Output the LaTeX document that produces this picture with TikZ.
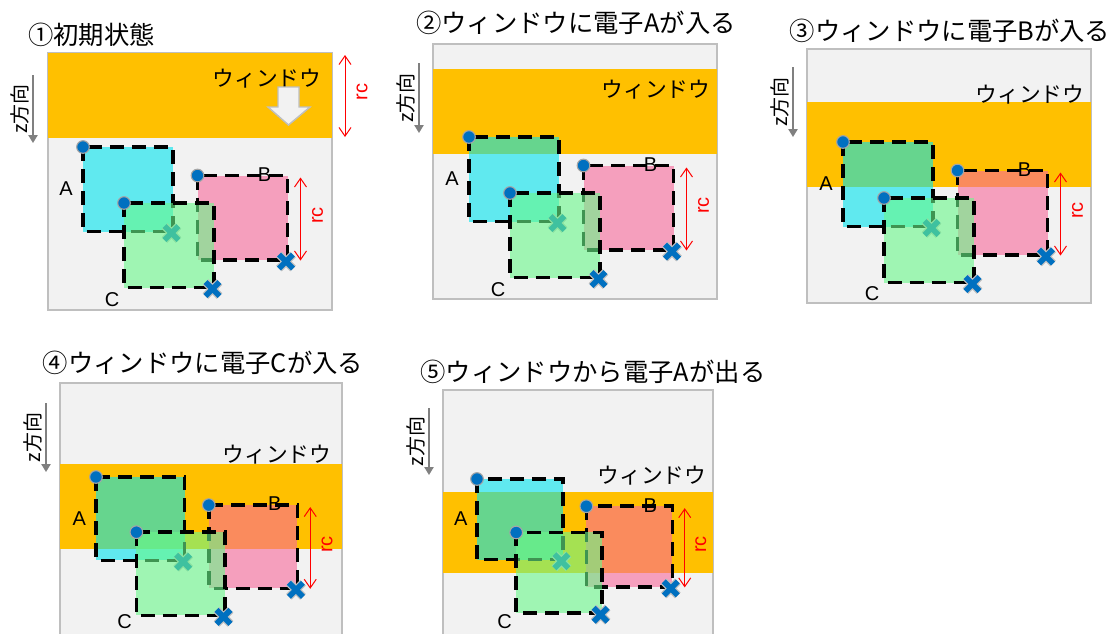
\documentclass[tikz,border=0pt]{standalone}
\usepackage{fontspec}
\setmainfont{Noto Sans CJK JP}
\newfontfamily\lat{Liberation Sans}
\usetikzlibrary{arrows.meta,calc}
\definecolor{bgray}{HTML}{F2F2F2}
\definecolor{fgray}{HTML}{BFBFBF}
\definecolor{winor}{HTML}{FFC000}
\definecolor{cA}{RGB}{0,228,238}
\definecolor{cB}{RGB}{248,105,155}
\definecolor{cC}{RGB}{105,248,138}
\definecolor{eblue}{HTML}{0070C0}
\definecolor{dgray}{HTML}{A6A6A6}
\definecolor{zgray}{HTML}{808080}
\newcommand\onesq[6]{% #1 coord, #2 scale, #3 colour, #4 label, #5 lx, #6 ly
  \fill[#3, fill opacity=0.6] (#1) rectangle ++(90*#2,84.5*#2);
  \draw[dashb] (#1) rectangle ++(90*#2,84.5*#2);
  \coordinate (#1x) at ($(#1)+(90*#2-1.5,84.5*#2+1.5)$);
  \draw[xout, shift={(#1x)}] (-7,-7) -- (7,7) (-7,7) -- (7,-7);
  \draw[xin, shift={(#1x)}] (-7,-7) -- (7,7) (-7,7) -- (7,-7);
  \node[edot] (#1d) at (#1) {};
  \node[lbl] (#1l) at ($(#1)+(#5*#2,#6*#2)$) {#4};
}
\newcommand\elec[5]{% #1 prefix, #2 ax, #3 ay, #4 scale, #5 C label y offset
  \coordinate (#1A) at (#2,#3);
  \coordinate (#1B) at (#2+114.5*#4,#3+28.5*#4);
  \coordinate (#1C) at (#2+41*#4,#3+56*#4);
  \onesq{#1A}{#4}{cA}{A}{-17}{42}
  \onesq{#1B}{#4}{cB}{B}{67}{-1}
  \coordinate (#1r1) at ($(#1B)+(103*#4,2*#4)$);
  \coordinate (#1r2) at ($(#1B)+(103*#4,85*#4)$);
  \draw[rcarrow] (#1r1) -- (#1r2);
  \node[rclbl] (#1rl) at ($(#1B)+(120*#4,40*#4)$) {rc};
  \onesq{#1C}{#4}{cC}{C}{-12}{#5}
}
\newcommand\zdir[4]{% #1 prefix, #2 x, #3 y top, #4 y bottom
  \coordinate (#1z1) at (#2,#3);
  \coordinate (#1z2) at (#2,#4);
  \draw[zarrow] (#1z1) -- (#1z2);
  \node[ztext] (#1zt) at (#2-13,{(#3+#4)/2}) {z方向};
}
\begin{document}
\begin{tikzpicture}[x=0.75pt,y=-0.75pt,
  panel/.style={fill=bgray, draw=fgray, line width=1.1pt},
  win/.style={fill=winor},
  dashb/.style={draw=black, line width=2.6pt, dash pattern=on 10.5pt off 6pt},
  xout/.style={draw=fgray, line width=6pt},
  xin/.style={draw=eblue, line width=4.2pt},
  edot/.style={circle, fill=eblue, draw=dgray, line width=0.8pt, minimum size=9.5pt, inner sep=0pt},
  lbl/.style={font=\lat\fontsize{15}{18}\selectfont, inner sep=0pt},
  rcarrow/.style={draw=red, line width=0.75pt, {Straight Barb[length=6.5pt,width=9pt]}-{Straight Barb[length=6.5pt,width=9pt]}},
  rclbl/.style={font=\lat\fontsize{15}{18}\selectfont, text=red, rotate=90, inner sep=0pt},
  zarrow/.style={draw=zgray, line width=1.1pt, -{Triangle[length=6pt,width=7pt]}},
  ztext/.style={font=\fontsize{15}{17}\selectfont, rotate=90, inner sep=0pt},
  title/.style={font=\fontsize{19}{22}\selectfont, inner sep=0pt},
  wtext/.style={font=\fontsize{16.3}{19}\selectfont, inner sep=0pt},
  barrow/.style={fill=bgray, draw=fgray, line width=1.1pt}]
\clip (0,0) rectangle (1115,633);
\fill[white] (0,0) rectangle (1115,633);
% ---- panel 1
\node[title, anchor=west] (t1) at (28,35) {①初期状態};
\fill[panel] (48,53) rectangle (332,310);
\fill[win] (48,53) rectangle (332,138);
\node[wtext] (w1) at (267,79) {ウィンドウ};
\draw[barrow] (278,87) -- (299,87) -- (299,107) -- (310,107) -- (288.5,125) -- (268,107) -- (278,107) -- cycle;
\coordinate (p1r1) at (345,55);
\coordinate (p1r2) at (345,137);
\draw[rcarrow] (p1r1) -- (p1r2);
\node[rclbl] (p1rl) at (362,92) {rc};
\zdir{p1}{33}{75}{143}
\elec{a}{83}{147}{1}{97}
% ---- panel 2
\node[title] (t2) at (576,23) {②ウィンドウに電子Aが入る};
\fill[panel] (433,44) rectangle (717,299);
\fill[win] (433,69) rectangle (717,154);
\node[wtext] (w2) at (656,90) {ウィンドウ};
\zdir{p2}{419}{63}{133}
\elec{b}{469}{137}{1}{97}
% ---- panel 3
\node[title] (t3) at (950,31) {③ウィンドウに電子Bが入る};
\fill[panel] (807,49) rectangle (1091,303);
\fill[win] (807,102) rectangle (1091,187);
\node[wtext] (w3) at (1030,95) {ウィンドウ};
\zdir{p3}{793}{67}{137}
\elec{c}{843}{142}{1}{96}
% ---- panel 4
\node[title] (t4) at (203,363) {④ウィンドウに電子Cが入る};
\fill[panel] (60,383) rectangle (342,650);
\fill[win] (60,464) rectangle (342,549);
\node[wtext] (w4) at (277,455) {ウィンドウ};
\zdir{p4}{46}{403}{472}
\elec{d}{96}{477}{0.985}{91}
% ---- panel 5
\node[title] (t5) at (593,372) {⑤ウィンドウから電子Aが出る};
\fill[panel] (443,390) rectangle (713,650);
\fill[win] (443,492) rectangle (713,573);
\node[wtext] (w5) at (652,476) {ウィンドウ};
\zdir{p5}{429}{408}{475}
\elec{e}{477}{479}{0.955}{93}
\end{tikzpicture}
\end{document}
